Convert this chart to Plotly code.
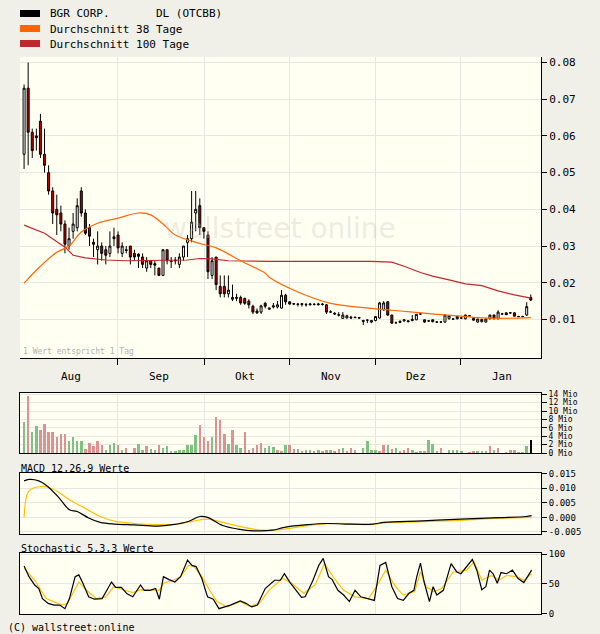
import plotly.graph_objects as go

# ---------------- data ----------------
opens  = [.055,.073,.061,.060,.064,.055,.050,.045,.040,.039,.036,.030,.034,.035,.045,.039,.035,.031,.029,.030,
          .029,.028,.0325,.033,.028,.029,.030,.028,.0278,.027,.024,.026,.0252,.024,.022,.029,.026,.0262,.025,.027,
          .031,.032,.039,.041,.035,.033,.022,.027,.019,.019,.017,.0155,.016,.016,.0157,.015,.0136,.0123,.012,.0144,
          .0128,.0134,.0134,.0131,.0166,.0148,.0143,.0142,.0143,.0141,.014,.0141,.014,.0142,.014,.0121,.0117,.0113,.0103,.0104,
          .0106,.0106,.0105,.0097,.0098,.0093,.0097,.0104,.0126,.0148,.0112,.0091,.0092,.0096,.0094,.0097,.0099,.0115,.0099,.0096,
          .0099,.0093,.0093,.0093,.0102,.0101,.0102,.0104,.0102,.0110,.0103,.0093,.0094,.0093,.0102,.0112,.0102,.0115,.0118,.0118,
          .0118,.0108,.0108,.0112,.0160]
highs  = [.074,.080,.062,.062,.066,.062,.052,.046,.044,.041,.037,.035,.039,.043,.046,.040,.036,.032,.034,.031,
          .030,.034,.035,.034,.031,.030,.030,.029,.028,.028,.027,.026,.026,.024,.029,.029,.027,.027,.028,.030,
          .033,.045,.045,.043,.035,.034,.027,.027,.022,.022,.022,.0195,.017,.0165,.016,.0155,.014,.013,.014,.0148,
          .0132,.0145,.015,.018,.017,.015,.0145,.0145,.0145,.0145,.0145,.0145,.0145,.0145,.0142,.0125,.012,.012,.012,.0113,
          .011,.0108,.0106,.0099,.0100,.0098,.0108,.0148,.015,.015,.0113,.0094,.0097,.0100,.0097,.0112,.0115,.0117,.0100,.0098,
          .0100,.0095,.0095,.0113,.0111,.0103,.0109,.0106,.0113,.0112,.0104,.0102,.0101,.0102,.0113,.0113,.0125,.0118,.0119,.0120,
          .0119,.0110,.0110,.0147,.0168]
lows   = [.051,.052,.054,.056,.054,.050,.044,.036,.033,.034,.028,.029,.032,.034,.038,.033,.030,.027,.025,.026,
          .025,.027,.030,.028,.027,.028,.025,.026,.024,.024,.023,.024,.022,.022,.022,.025,.024,.025,.024,.026,
          .027,.031,.034,.033,.032,.021,.021,.018,.016,.016,.016,.015,.015,.014,.014,.013,.0115,.0115,.0115,.013,
          .0126,.013,.013,.013,.014,.014,.014,.0135,.0135,.0135,.0138,.0138,.0138,.0138,.0115,.0118,.0112,.0108,.0103,.0103,
          .0103,.0104,.0103,.0085,.0090,.0090,.0095,.0102,.0124,.0110,.0088,.0089,.0090,.0094,.0092,.0095,.0098,.0113,.0091,.0094,
          .0092,.0091,.0091,.0091,.0100,.0099,.0100,.0102,.0100,.0108,.0097,.0091,.0092,.0091,.0100,.0100,.0100,.0113,.0112,.0116,
          .0108,.0106,.0106,.0110,.0150]
closes = [.073,.061,.056,.0595,.055,.052,.045,.039,.0385,.036,.0305,.032,.036,.041,.039,.0335,.0327,.0305,.030,.028,
          .0275,.030,.032,.0295,.030,.0288,.027,.027,.0272,.025,.026,.025,.0248,.022,.029,.026,.0258,.026,.027,.030,
          .032,.0365,.040,.035,.034,.023,.026,.0195,.017,.017,.018,.016,.0158,.0145,.0144,.014,.012,.0118,.0137,.0136,
          .0131,.0137,.014,.0166,.0148,.0142,.0142,.0141,.0141,.014,.0142,.0141,.0142,.0141,.012,.0120,.0115,.0112,.0112,.011,
          .0104,.0105,.0104,.0095,.0098,.0097,.0108,.0145,.0145,.0112,.009,.0091,.0095,.0099,.0096,.0100,.0114,.0115,.0093,.0096,
          .0094,.0093,.0093,.0112,.0110,.0101,.0108,.0104,.0112,.0110,.0098,.0101,.0100,.0101,.0112,.0102,.0120,.0115,.0113,.0118,
          .0109,.0108,.0108,.0135,.0153]
days = list(range(len(closes)))

ma38_days = [0,4,8,11,14,18,23,28,31,34,37,42,47,53,59,60,67,75,79,85,87,92,101,106,111,116,124]
ma38_vals = [.0199,.0245,.0283,.030,.0338,.0362,.0376,.039,.0385,.036,.033,.031,.0295,.026,.0226,.0215,.0175,.0144,.0137,.013,.0128,.0123,.0114,.011,.0105,.0103,.0105]
ma100_days = [0,5,10,12,15,20,25,30,35,40,43,46,50,55,60,65,70,75,80,85,90,93,97,100,104,108,112,116,120,124]
ma100_vals = [.0357,.0335,.0297,.0275,.0268,.0262,.026,.026,.026,.0262,.0266,.0265,.026,.0258,.0258,.0258,.0258,.026,.0258,.0258,.0256,.0245,.0228,.0218,.0208,.0197,.0192,.0178,.0167,.0158]

volume = [7.5,13.6,5.1,6.5,5.4,7.0,5.1,4.9,3.9,4.6,4.6,2.9,3.7,2.8,2.8,1.0,2.5,1.6,2.8,1.8,
          0.8,1.8,2.5,2.0,0.8,1.1,0,1.1,2.2,0.8,1.6,1.0,0.6,2.0,1.2,1.7,0.4,0.4,0.8,0.8,
          2.0,2.0,4.3,6.7,3.7,2.9,3.7,8.7,7.9,4.6,2.2,5.5,2.0,1.3,4.9,0.6,1.2,2.0,2.5,1.2,
          1.6,1.4,0.6,0.3,2.0,2.0,1.0,1.0,0.4,0.8,0.6,0.4,0.6,0.3,0.6,0.8,0.4,0.9,1.1,0.3,
          1.3,0.6,0,1.3,2.8,0.8,0.6,0.4,2.0,2.0,0.9,1.1,0.4,0.8,1.3,0.6,0.2,0.5,0.3,3.1,
          2.2,0.4,1.2,0,0.6,0.6,0.6,0.4,0,0.2,0.3,0.3,0.3,0.3,1.6,0.6,1.1,0,0.2,0.8,
          0.8,0.2,0.2,1.7,3.1]
vol_up = "grggrrrrrrrggggrrrrrgggrgrrrggrggrgggggggggrrrgrrrgrggrrrrrgggrggrrgrggrgrrgrrgrr" \
         "rrggggrrgrgrrrgggrgggrrggggrrrgggrgrrrrrggg"

macd_days = [0,1.2,3.6,5.4,8.3,11.1,13,15.8,18.6,22.4,27,32.7,36.4,40.2,43,44.9,48.6,52.4,56.2,60.8,63.7,69.3,74,78.7,85.3,88.1,97.5,106.9,116.2,122.8,124.2]
macd_vals = [.0125,.013,.0125,.011,.0071,.0026,.002,-.0002,-.0017,-.0023,-.0026,-.003,-.0025,-.0014,.0003,0,-.0028,-.004,-.0046,-.0044,-.0034,-.0025,-.0021,-.0023,-.0023,-.0017,-.0012,-.0006,-.0001,.0003,.0006]
sig_days = [0,0.8,1.7,3.6,5.4,8.3,11.1,14.8,18.6,22.4,27,32.7,37.4,41.1,44.9,48.6,52.4,58,62.7,69.3,75.9,85.3,88.1,97.5,106.9,116.2,124.2]
sig_vals = [0,.0082,.0096,.0105,.0105,.0088,.006,.0032,.0003,-.0014,-.0021,-.0025,-.0023,-.0014,-.0006,-.0017,-.003,-.0044,-.0042,-.0028,-.0021,-.0025,-.0019,-.0015,-.001,-.0003,0]

k_days = [0,1.2,2.6,3.6,4.5,5.9,7.3,8.7,10,11.1,12.5,13.4,14.4,15.8,17.2,19.1,20.5,21.4,22.4,23.8,25.2,26.6,28.5,29.4,30.8,32.2,33.1,34.1,35.5,36.9,
          38.3,40,41.1,42.1,43.5,44.9,46.3,47.7,49.1,50.5,52.9,54.3,55.7,57.1,59,61.3,62.7,63.7,65.1,66.5,67.9,68.8,70.7,72.1,73.2,74.5,75.4,76.8,78.2,79.6,
          81,82.4,84.3,85.7,87.1,88.5,90,91.4,92.8,94.2,95.4,96.1,97,97.9,99.2,100.1,101,102.6,104.5,105.9,106.9,108.3,109.7,110.8,112,113,113.9,114.8,115.8,116.7,
          118.1,119.5,120.9,122.3,124.2]
k_vals = [80,62,48,42,25,17,14,14,8,25,62,65,51,28,24,25,42,53,44,44,33,28,48,39,39,42,24,62,57,53,
          62,90,81,79,59,28,24,8,11,14,21,17,11,14,42,56,56,67,52,39,27,28,56,81,93,62,57,39,31,20,
          39,28,24,22,81,86,45,25,22,34,39,62,85,53,20,45,31,39,84,70,67,79,91,73,40,45,73,67,51,69,
          67,73,59,52,73]
d_days = [0,2.6,5.4,9.2,10.6,13.4,15.3,17.7,20,21.9,24.2,26.6,28.5,31.3,33.1,34.1,36.4,38.3,40.2,41.6,43.5,45.4,47.2,49.6,52.9,55.2,57.6,59.9,63.2,65.5,
          68.4,71.2,73.5,75.9,78.2,81,84.3,86.2,88.5,90.9,92.8,95.6,97,98.4,100.3,102.2,105,108.3,110.1,112,114.4,116.2,118.1,120.5,122.3,124.2]
d_vals = [76,56,25,14,17,53,39,25,28,45,40,35,40,40,39,51,56,62,81,79,62,39,20,11,20,12,17,39,59,51,
          34,48,84,59,39,28,25,45,73,45,31,37,70,45,37,42,70,73,87,56,64,56,64,62,56,67]

month_labels = ["Aug", "Sep", "Okt", "Nov", "Dez", "Jan"]
month_label_pos = [11.5, 33, 54, 75, 96, 117]
month_starts = [22.9, 44.1, 64.9, 85.9, 106.8]

# ---------------- figure ----------------
W, H = 600, 634
def py(y): return 1 - y / H
FONT = "DejaVu Sans Mono"
GRID = "#e6e6e6"
fig = go.Figure()

fig.add_trace(go.Candlestick(
    x=days, open=opens, high=highs, low=lows, close=closes,
    increasing=dict(fillcolor="white", line=dict(color="black", width=1)),
    decreasing=dict(fillcolor="#c00000", line=dict(color="black", width=1)),
    whiskerwidth=0, showlegend=False, hoverinfo="skip", xaxis="x", yaxis="y"))
fig.add_trace(go.Scatter(x=ma100_days, y=ma100_vals, mode="lines", line=dict(color="#c0272d", width=1.2),
                         xaxis="x", yaxis="y", showlegend=False))
fig.add_trace(go.Scatter(x=ma38_days, y=ma38_vals, mode="lines", line=dict(color="#ff6600", width=1.2, shape="spline"),
                         xaxis="x", yaxis="y", showlegend=False))

vcol = ["#80c080" if c == "g" else "#e09090" for c in vol_up[:len(volume)]]
fig.add_trace(go.Bar(x=days[:len(volume)], y=volume, marker=dict(color=vcol, line=dict(width=0)), width=0.6,
                     xaxis="x2", yaxis="y2", showlegend=False))

fig.add_trace(go.Scatter(x=sig_days, y=sig_vals, mode="lines", line=dict(color="#ffc000", width=1.2, shape="spline"),
                         xaxis="x3", yaxis="y3", showlegend=False))
fig.add_trace(go.Scatter(x=macd_days, y=macd_vals, mode="lines", line=dict(color="black", width=1.2, shape="spline"),
                         xaxis="x3", yaxis="y3", showlegend=False))

fig.add_trace(go.Scatter(x=d_days, y=d_vals, mode="lines", line=dict(color="#ffc000", width=1.2),
                         xaxis="x4", yaxis="y4", showlegend=False))
fig.add_trace(go.Scatter(x=k_days, y=k_vals, mode="lines", line=dict(color="black", width=1.2),
                         xaxis="x4", yaxis="y4", showlegend=False))

xd = [20 / W, 541 / W]
xcommon = dict(domain=xd, range=[-1, 126.5], tickvals=month_starts, ticktext=[""] * 5,
               showgrid=True, gridcolor=GRID, zeroline=False, rangeslider=dict(visible=False),
               fixedrange=True)
def ycommon(size):
    return dict(side="right", ticks="outside", ticklen=5, tickcolor="black", showgrid=True, gridcolor=GRID,
                zeroline=False, tickfont=dict(family=FONT, size=size, color="black"), showline=True,
                linecolor="black", automargin=False)

fig.update_layout(
    width=W, height=H, margin=dict(l=0, r=0, t=0, b=0),
    paper_bgcolor="#f0efe8", plot_bgcolor="#fffff2", showlegend=False, bargap=0,
    xaxis=dict(**xcommon, anchor="y", ticks="outside", ticklen=6, tickcolor="black",
               showline=True, linecolor="black"),
    yaxis=dict(**ycommon(11), domain=[py(358), py(57)], range=[-0.0005, 0.0815],
               tickvals=[0.01, 0.02, 0.03, 0.04, 0.05, 0.06, 0.07, 0.08],
               ticktext=["0.01", "0.02", "0.03", "0.04", "0.05", "0.06", "0.07", "0.08"]),
    xaxis2=dict(**xcommon, anchor="y2", matches="x", showline=True, linecolor="black", mirror=True, ticks=""),
    yaxis2=dict(**ycommon(8), domain=[py(453), py(393)], range=[0, 14.3], mirror=True,
                tickvals=[0, 2, 4, 6, 8, 10, 12, 14],
                ticktext=["0 Mio", "2 Mio", "4 Mio", "6 Mio", "8 Mio", "10 Mio", "12 Mio", "14 Mio"]),
    xaxis3=dict(**xcommon, anchor="y3", matches="x", showline=True, linecolor="black", mirror=True, ticks=""),
    yaxis3=dict(**ycommon(9), domain=[py(534), py(473)], range=[-0.0057, 0.0152], mirror=True,
                tickvals=[-0.005, 0, 0.005, 0.01, 0.015],
                ticktext=["-0.005", "0.000", "0.005", "0.010", "0.015"]),
    xaxis4=dict(**xcommon, anchor="y4", matches="x", showline=True, linecolor="black", mirror=True, ticks=""),
    yaxis4=dict(**ycommon(9), domain=[py(614), py(553)], range=[-1, 102], mirror=True,
                tickvals=[0, 50, 100], ticktext=["0", "50", "100"]),
)

ann = []
for lab, pos in zip(month_labels, month_label_pos):
    ann.append(dict(x=pos, y=py(376), xref="x", yref="paper", text=lab, showarrow=False,
                    font=dict(family=FONT, size=11, color="black"), yanchor="middle"))
def txt(x, y, s, size=11, color="black"):
    ann.append(dict(x=x / W, y=py(y), xref="paper", yref="paper", text=s, showarrow=False,
                    xanchor="left", yanchor="middle", font=dict(family=FONT, size=size, color=color)))
txt(48, 14, "BGR CORP.       DL (OTCBB)")
txt(48, 29, "Durchschnitt 38 Tage")
txt(48, 44, "Durchschnitt 100 Tage")
txt(19, 468, "MACD 12,26,9 Werte", size=10)
txt(19, 548, "Stochastic 5,3,3 Werte", size=10)
txt(6, 627, "(C) wallstreet:online", size=10)
txt(21, 351, "1 Wert entspricht 1 Tag", size=8, color="#b0b0b0")
ann.append(dict(x=280 / W, y=py(228), xref="paper", yref="paper", text="wallstreet online", showarrow=False,
                font=dict(family="DejaVu Sans", size=28, color="rgba(190,190,190,0.3)")))
fig.update_layout(annotations=ann)

shapes = []
for y0, c in [(10, "black"), (25, "#ff6600"), (40, "#c0272d")]:
    shapes.append(dict(type="rect", xref="paper", yref="paper", x0=20 / W, x1=40 / W, y0=py(y0 + 7), y1=py(y0),
                       fillcolor=c, line=dict(width=0)))
fig.update_layout(shapes=shapes)

fig.write_html("out.html", config={"displayModeBar": False},
               post_script="document.body.style.margin='0';document.body.style.overflow='hidden';")
